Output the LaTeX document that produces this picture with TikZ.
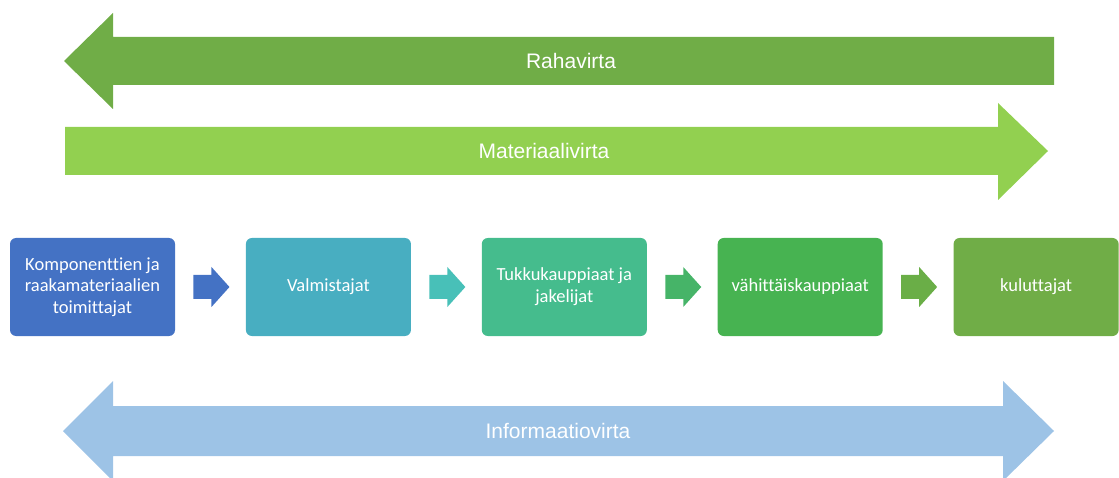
\documentclass[tikz,border=0pt]{standalone}
\usepackage{fontspec}
\setmainfont{Liberation Sans}
\newfontfamily\boxfont[Ligatures=NoCommon]{Carlito}
\usepackage{tikz}
\usetikzlibrary{positioning}
\definecolor{rahagreen}{HTML}{70AD47}
\definecolor{matgreen}{HTML}{92D050}
\definecolor{infoblue}{HTML}{9DC3E6}
\definecolor{cboxa}{HTML}{4472C4}
\definecolor{cboxb}{HTML}{48AEC1}
\definecolor{cboxc}{HTML}{45BC8D}
\definecolor{cboxd}{HTML}{47B351}
\definecolor{cboxe}{HTML}{70AD47}
\definecolor{carrb}{HTML}{48C0B8}
\definecolor{carrc}{HTML}{46B468}
\definecolor{carrd}{HTML}{6AAE47}
\tikzstyle{chainbox} = [rounded corners=6pt,minimum width=165pt,minimum height=98pt,align=center,text=white,font=\boxfont\fontsize{18.5}{21.7}\selectfont,inner sep=0pt]
\tikzstyle{flowlabel} = [text=white,font=\fontsize{21}{25}\selectfont]
\tikzstyle{smallarrow} = [shift={(m)}]

\begin{document}
\begin{tikzpicture}[x=1pt,y=-1pt]
						\useasboundingbox (0,0) rectangle (1119,478);

						%Flows
						\fill[rahagreen] (64,61) -- (113,13) -- (113,37) -- (1054,37) -- (1054,85) -- (113,85) -- (113,109) -- cycle;
						\node[flowlabel] (raha) at (571,61) {Rahavirta};

						\fill[matgreen] (65,127) -- (998,127) -- (998,103) -- (1048,151) -- (998,200) -- (998,175) -- (65,175) -- cycle;
						\node[flowlabel] (mat) at (544,151) {Materiaalivirta};

						\fill[infoblue] (63,431) -- (113,381) -- (113,406) -- (1003,406) -- (1003,381) -- (1054,431) -- (1003,481) -- (1003,456) -- (113,456) -- (113,481) -- cycle;
						\node[flowlabel] (info) at (558,431) {Informaatiovirta};

						%Nodes
						\node[chainbox,fill=cboxa] (b1) at (92.5,287) {Komponenttien ja\\raakamateriaalien\\toimittajat};
						\node[chainbox,fill=cboxb,right=70.5pt of b1] (b2) {Valmistajat};
						\node[chainbox,fill=cboxc,right=70.5pt of b2] (b3) {Tukkukauppiaat ja\\jakelijat};
						\node[chainbox,fill=cboxd,right=70.5pt of b3] (b4) {vähittäiskauppiaat};
						\node[chainbox,fill=cboxe,right=70.5pt of b4] (b5) {kuluttajat};

						%Lines
						\foreach \a/\b/\c in {b1/b2/cboxa,b2/b3/carrb,b3/b4/carrc,b4/b5/carrd}{
							\path (\a.east) -- (\b.west) coordinate[midway] (m);
							\fill[\c,smallarrow] (-17,-12) -- (1,-12) -- (1,-20) -- (19,0) -- (1,20) -- (1,12) -- (-17,12) -- cycle;
						}
					\end{tikzpicture}
\end{document}
